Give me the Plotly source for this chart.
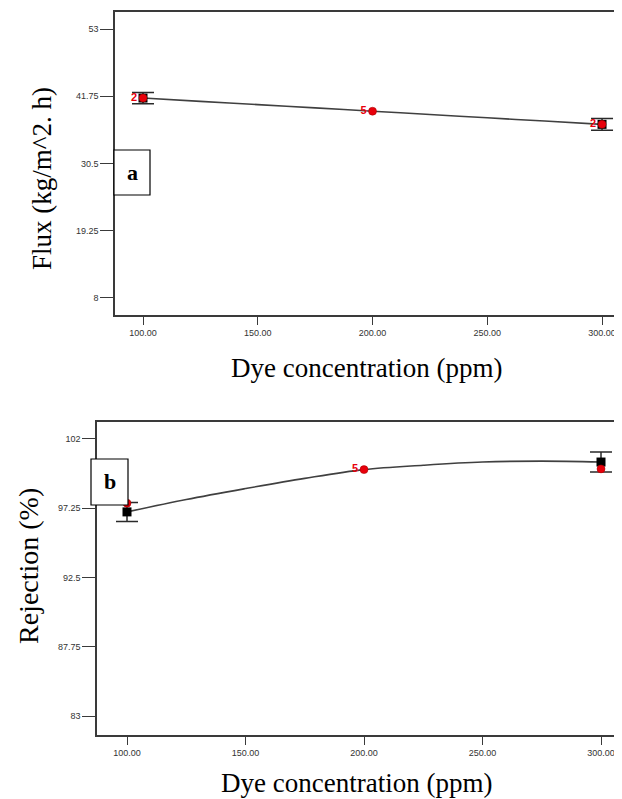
import plotly.graph_objects as go

# The page has an 8px default body margin, so the figure is sized to fill the
# remaining viewport, and page coordinates are converted with an 8px offset.
OFF = 8
W, H = 622 - OFF, 799 - OFF

# ---------------- data ----------------
curve_x = [100, 125, 150, 175, 200, 225, 250, 275, 300]
flux_curve = [41.45, 40.9, 40.35, 39.8, 39.25, 38.7, 38.15, 37.6, 37.05]
rej_curve = [97.0, 97.85, 98.6, 99.3, 99.9, 100.2, 100.42, 100.48, 100.42]

design_x = [100, 200, 300]
flux_design = [41.45, 39.25, 37.05]
flux_reps = ["2", "5", "2"]
rej_design = [97.6, 99.9, 99.95]
rej_reps = ["", "5", ""]

mean_x = [100, 300]
flux_mean = [41.45, 37.05]
flux_lsd = [0.95, 1.0]
rej_mean = [97.0, 100.42]
rej_lsd = [0.65, 0.68]

x_ticks = [100, 150, 200, 250, 300]
flux_ticks = [8, 19.25, 30.5, 41.75, 53]
flux_tick_text = ["8", "19.25", "30.5", "41.75", "53"]
rej_ticks = [83, 87.75, 92.5, 97.25, 102]
rej_tick_text = ["83", "87.75", "92.5", "97.25", "102"]

x_title = "Dye concentration (ppm)"
flux_title = "Flux (kg/m^2. h)"
rej_title = "Rejection (%)"


def px(x):
    return (x - OFF) / W


def py(y):
    return 1 - (y - OFF) / H


fig = go.Figure()

LINE = "#3a3a3a"
RED = "#e8000b"


def add_panel(xa, ya, curve, design, reps, mvals, lsd):
    fig.add_trace(go.Scatter(x=curve_x, y=curve, mode="lines", xaxis=xa, yaxis=ya,
                             line=dict(color="#404040", width=1.6, shape="spline"),
                             hoverinfo="skip", showlegend=False))
    fig.add_trace(go.Scatter(x=mean_x, y=mvals, mode="markers", xaxis=xa, yaxis=ya,
                             marker=dict(symbol="square", size=9, color="black"),
                             error_y=dict(type="data", array=lsd, visible=True,
                                          color="#2a2a2a", thickness=1.5, width=11),
                             showlegend=False))
    fig.add_trace(go.Scatter(x=design_x, y=design, mode="markers+text", xaxis=xa, yaxis=ya,
                             marker=dict(symbol="circle", size=8, color=RED,
                                         line=dict(color="#a00000", width=0.5)),
                             text=["<b>%s</b>" % r if r else "" for r in reps],
                             textposition="middle left",
                             textfont=dict(family="Liberation Sans", size=11, color=RED),
                             showlegend=False))


add_panel("x", "y", flux_curve, flux_design, flux_reps, flux_mean, flux_lsd)
add_panel("x2", "y2", rej_curve, rej_design, rej_reps, rej_mean, rej_lsd)

tickfont = dict(family="Liberation Sans", size=9, color="#333333")
common_x = dict(tickvals=x_ticks, tickformat=".2f", ticks="outside", ticklen=8,
                tickcolor=LINE, tickwidth=1.2, showline=True, linecolor=LINE,
                linewidth=1.5, mirror=True, showgrid=False, zeroline=False,
                tickfont=tickfont)
common_y = dict(ticks="outside", ticklen=13, tickcolor=LINE, tickwidth=1.2,
                showline=True, linecolor=LINE, linewidth=1.5, mirror=False,
                showgrid=False, zeroline=False, tickfont=tickfont)

fig.update_layout(
    width=W, height=H, margin=dict(l=0, r=0, t=0, b=0),
    paper_bgcolor="white", plot_bgcolor="white",
    xaxis=dict(domain=[px(115), 1.0], range=[87.8, 308.7], anchor="y", **common_x),
    yaxis=dict(domain=[py(315), py(12)], range=[5.15, 55.85], anchor="x",
               tickvals=flux_ticks, ticktext=flux_tick_text, **common_y),
    xaxis2=dict(domain=[px(97), 1.0], range=[87.34, 308.86], anchor="y2", **common_x),
    yaxis2=dict(domain=[py(735), py(422)], range=[81.7, 103.165], anchor="x2",
                tickvals=rej_ticks, ticktext=rej_tick_text, **common_y),
)

serif = "Liberation Serif"
ann = [
    dict(text=x_title, x=px(366), y=py(368), font=dict(family=serif, size=27, color="black")),
    dict(text=x_title, x=px(356), y=py(783), font=dict(family=serif, size=27, color="black")),
    dict(text=flux_title, x=px(42), y=py(179), textangle=-90, font=dict(family=serif, size=27, color="black")),
    dict(text=rej_title, x=px(28), y=py(566), textangle=-90, font=dict(family=serif, size=28, color="black")),
    dict(text="<b>a</b>", x=px(132), y=py(173), font=dict(family=serif, size=22, color="black")),
    dict(text="<b>b</b>", x=px(110), y=py(482), font=dict(family=serif, size=22, color="black")),
]
for a in ann:
    a.update(xref="paper", yref="paper", showarrow=False, xanchor="center", yanchor="middle")
fig.update_layout(annotations=ann)

fig.update_layout(shapes=[
    dict(type="rect", xref="paper", yref="paper", x0=px(114), x1=px(150), y0=py(195), y1=py(150),
         line=dict(color="black", width=1.2), fillcolor="white", layer="above"),
    dict(type="rect", xref="paper", yref="paper", x0=px(91), x1=px(128), y0=py(505), y1=py(459),
         line=dict(color="black", width=1.2), fillcolor="white", layer="above"),
])

fig.write_html("out.html")
